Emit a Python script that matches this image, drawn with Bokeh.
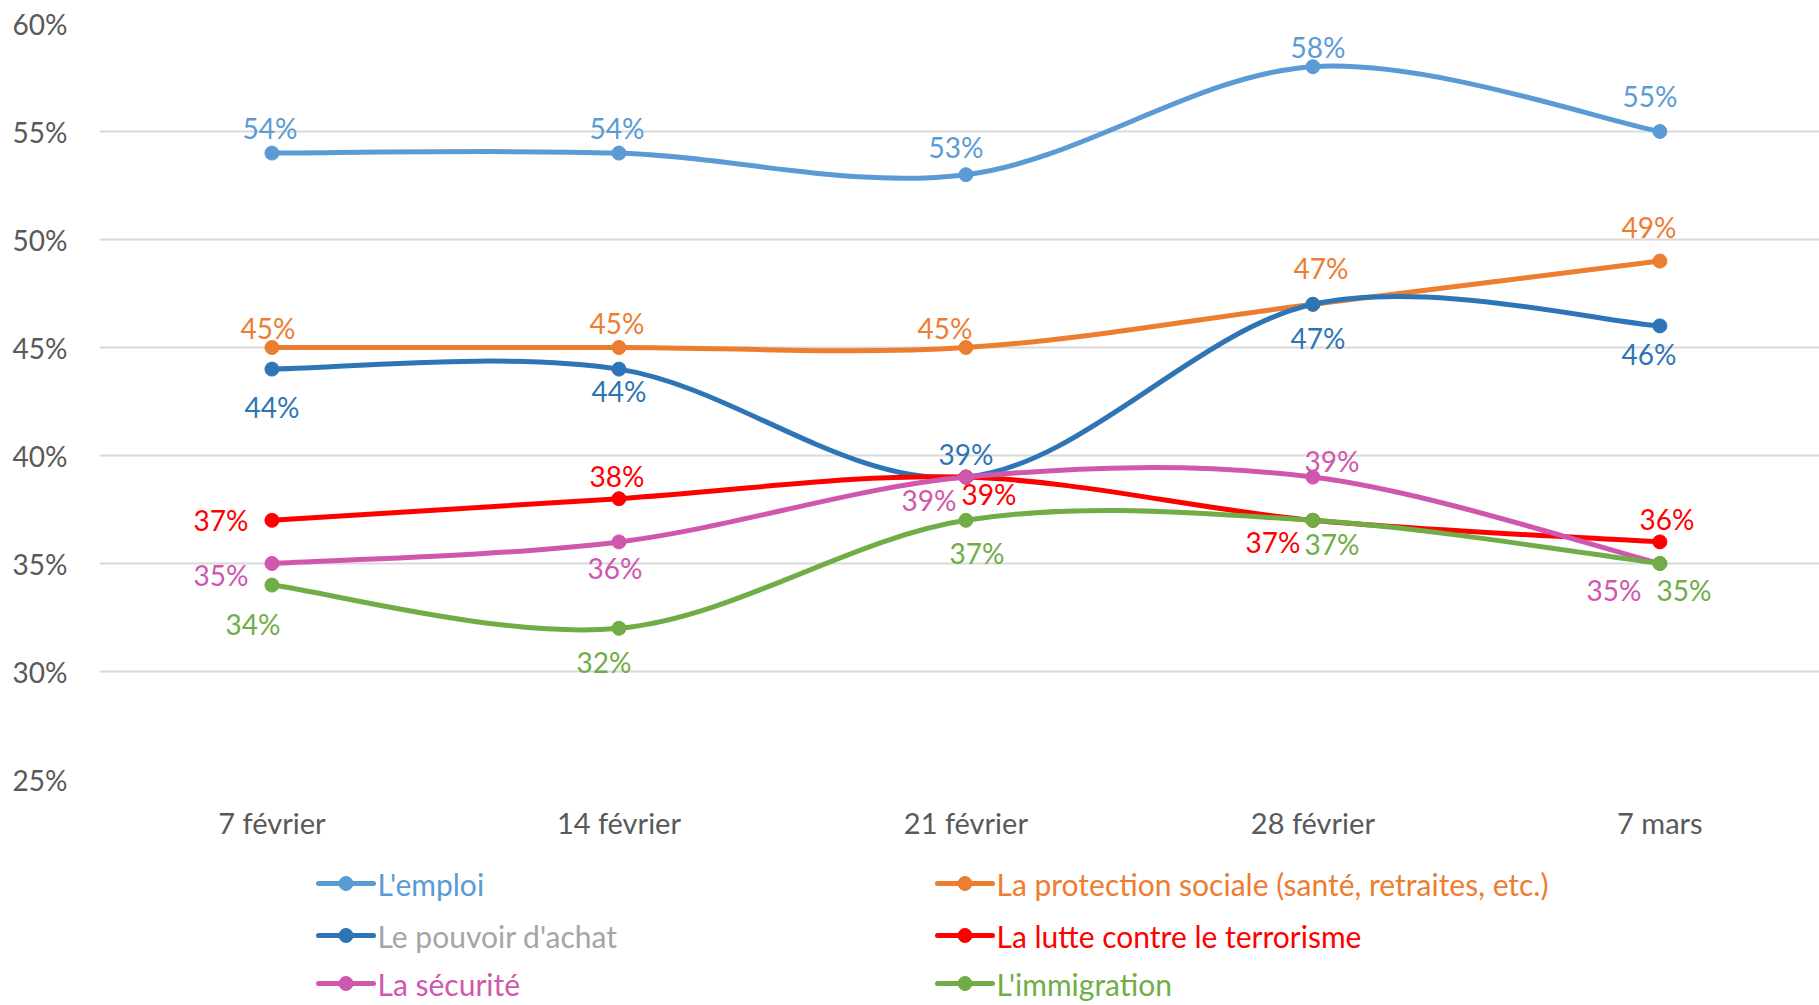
from bokeh.plotting import figure
from bokeh.models import ColumnDataSource, FixedTicker, Range1d
from bokeh.layouts import column
from bokeh.embed import file_html
from bokeh.resources import INLINE
from bokeh.core.properties import value

# ---------------- data ----------------
categories = ["7 février", "14 février", "21 février", "28 février", "7 mars"]
series_names = [
    "L'emploi",
    "La protection sociale (santé, retraites, etc.)",
    "Le pouvoir d'achat",
    "La lutte contre le terrorisme",
    "La sécurité",
    "L'immigration",
]
emploi = [54, 54, 53, 58, 55]
protection = [45, 45, 45, 47, 49]
pouvoir = [44, 44, 39, 47, 46]
terrorisme = [37, 38, 39, 37, 36]
securite = [35, 36, 39, 39, 35]
immigration = [34, 32, 37, 37, 35]
y_ticks = [25, 30, 35, 40, 45, 50, 55, 60]

series_values = [emploi, protection, pouvoir, terrorisme, securite, immigration]

# ---------------- styles ----------------
FONT = "Lato"
colors = ["#5B9BD5", "#ED7D31", "#2E75B6", "#FF0000", "#CF57AE", "#70AD47"]
legend_text_colors = ["#5B9BD5", "#ED7D31", "#A5A5A5", "#FF0000", "#CF57AE", "#70AD47"]
LINE_W = 5
MARK = 14
# data-label offsets in screen pixels (dx, dy) per series / point
label_offsets = [
    [(-2, -25), (-2, -25), (-10, -28), (5, -20), (-10, -36)],
    [(-4, -20), (-2, -25), (-21, -20), (8, -36), (-11, -34)],
    [(0, 38), (0, 22), (0, -23), (5, 34), (-11, 28)],
    [(-51, 0), (-2, -23), (23, 17), (-40, 22), (7, -23)],
    [(-51, 11), (-4, 26), (-37, 23), (19, -16), (-46, 26)],
    [(-19, 39), (-15, 34), (11, 33), (19, 24), (24, 26)],
]

xs = list(range(len(categories)))


def smooth_segments(xv, yv):
    """Cubic Bezier segments (Catmull-Rom style, like spreadsheet smoothed lines)."""
    n = len(xv)
    d = dict(x0=[], y0=[], x1=[], y1=[], cx0=[], cy0=[], cx1=[], cy1=[])
    for i in range(n - 1):
        a = max(i - 1, 0)
        b = min(i + 2, n - 1)
        d["x0"].append(xv[i]); d["y0"].append(yv[i])
        d["x1"].append(xv[i + 1]); d["y1"].append(yv[i + 1])
        d["cx0"].append(xv[i] + (xv[i + 1] - xv[a]) / 6)
        d["cy0"].append(yv[i] + (yv[i + 1] - yv[a]) / 6)
        d["cx1"].append(xv[i + 1] - (xv[b] - xv[i]) / 6)
        d["cy1"].append(yv[i + 1] - (yv[b] - yv[i]) / 6)
    return d


# ---------------- main chart ----------------
W = 1819
LEFT = 99
p = figure(
    width=W, height=859,
    x_range=Range1d(-0.497, 4.46), y_range=Range1d(25, 60),
    output_backend="svg", toolbar_location=None,
    min_border_left=LEFT, min_border_right=0, min_border_top=23, min_border_bottom=80,
)
p.outline_line_color = None
p.background_fill_color = "white"
p.border_fill_color = "white"

p.xgrid.visible = False
p.ygrid.ticker = FixedTicker(ticks=y_ticks)
p.ygrid.grid_line_color = "#D9D9D9"
p.ygrid.grid_line_width = 2

p.yaxis.ticker = FixedTicker(ticks=y_ticks)
p.yaxis.major_label_overrides = {v: f"{v}%" for v in y_ticks}
p.xaxis.ticker = FixedTicker(ticks=xs)
p.xaxis.major_label_overrides = {i: c for i, c in zip(xs, categories)}
for ax in (p.xaxis, p.yaxis):
    ax.axis_line_color = None
    ax.major_tick_line_color = None
    ax.minor_tick_line_color = None
    ax.major_label_text_font = FONT
    ax.major_label_text_color = "#595959"
p.yaxis.major_label_text_font_size = "28px"
p.xaxis.major_label_text_font_size = "29px"
p.yaxis.major_label_standoff = 26
p.xaxis.major_label_standoff = 19

for vals, col, offs in zip(series_values, colors, label_offsets):
    seg = ColumnDataSource(smooth_segments(xs, vals))
    p.bezier(x0="x0", y0="y0", x1="x1", y1="y1", cx0="cx0", cy0="cy0",
             cx1="cx1", cy1="cy1", source=seg, line_color=col, line_width=LINE_W,
             line_cap="round")
    pts = ColumnDataSource(dict(
        x=xs, y=vals, label=[f"{v}%" for v in vals],
        dx=[o[0] for o in offs], dy=[o[1] for o in offs],
    ))
    p.scatter(x="x", y="y", source=pts, marker="circle", size=MARK,
              fill_color=col, line_color=col)
    p.text(x="x", y="y", text="label", x_offset="dx", y_offset="dy", source=pts,
           text_align="center", text_baseline="middle", text_color=col,
           text_font=value(FONT), text_font_size="28px")

# ---------------- legend (drawn in its own panel, pixel units) ----------------
LH = 146
lg = figure(
    width=W, height=LH, x_range=Range1d(LEFT, W), y_range=Range1d(LH, 0),
    output_backend="svg", toolbar_location=None,
    min_border_left=LEFT, min_border_right=0, min_border_top=0, min_border_bottom=0,
    x_axis_location=None, y_axis_location=None,
)
lg.grid.visible = False
lg.outline_line_color = None
lg.border_fill_color = "white"
lg.background_fill_color = "white"

col_x = [318, 937]
row_c = [24, 76, 124]
GW = 55
leg = dict(x0=[], x1=[], xm=[], xt=[], y=[], name=[], col=[], tcol=[])
for k, (name, col, tcol) in enumerate(zip(series_names, colors, legend_text_colors)):
    row, c = divmod(k, 2)
    leg["x0"].append(col_x[c]); leg["x1"].append(col_x[c] + GW)
    leg["xm"].append(col_x[c] + GW / 2); leg["xt"].append(col_x[c] + GW + 4)
    leg["y"].append(row_c[row]); leg["name"].append(name)
    leg["col"].append(col); leg["tcol"].append(tcol)
lsrc = ColumnDataSource(leg)
lg.segment(x0="x0", y0="y", x1="x1", y1="y", source=lsrc, line_color="col",
           line_width=LINE_W, line_cap="round")
lg.scatter(x="xm", y="y", source=lsrc, marker="circle", size=MARK,
           fill_color="col", line_color="col")
lg.text(x="xt", y="y", text="name", source=lsrc, text_color="tcol",
        text_align="left", text_baseline="middle",
        text_font=value(FONT), text_font_size="30px")

layout = column(p, lg, spacing=0)
open("out.html", "w").write(file_html(layout, INLINE))
